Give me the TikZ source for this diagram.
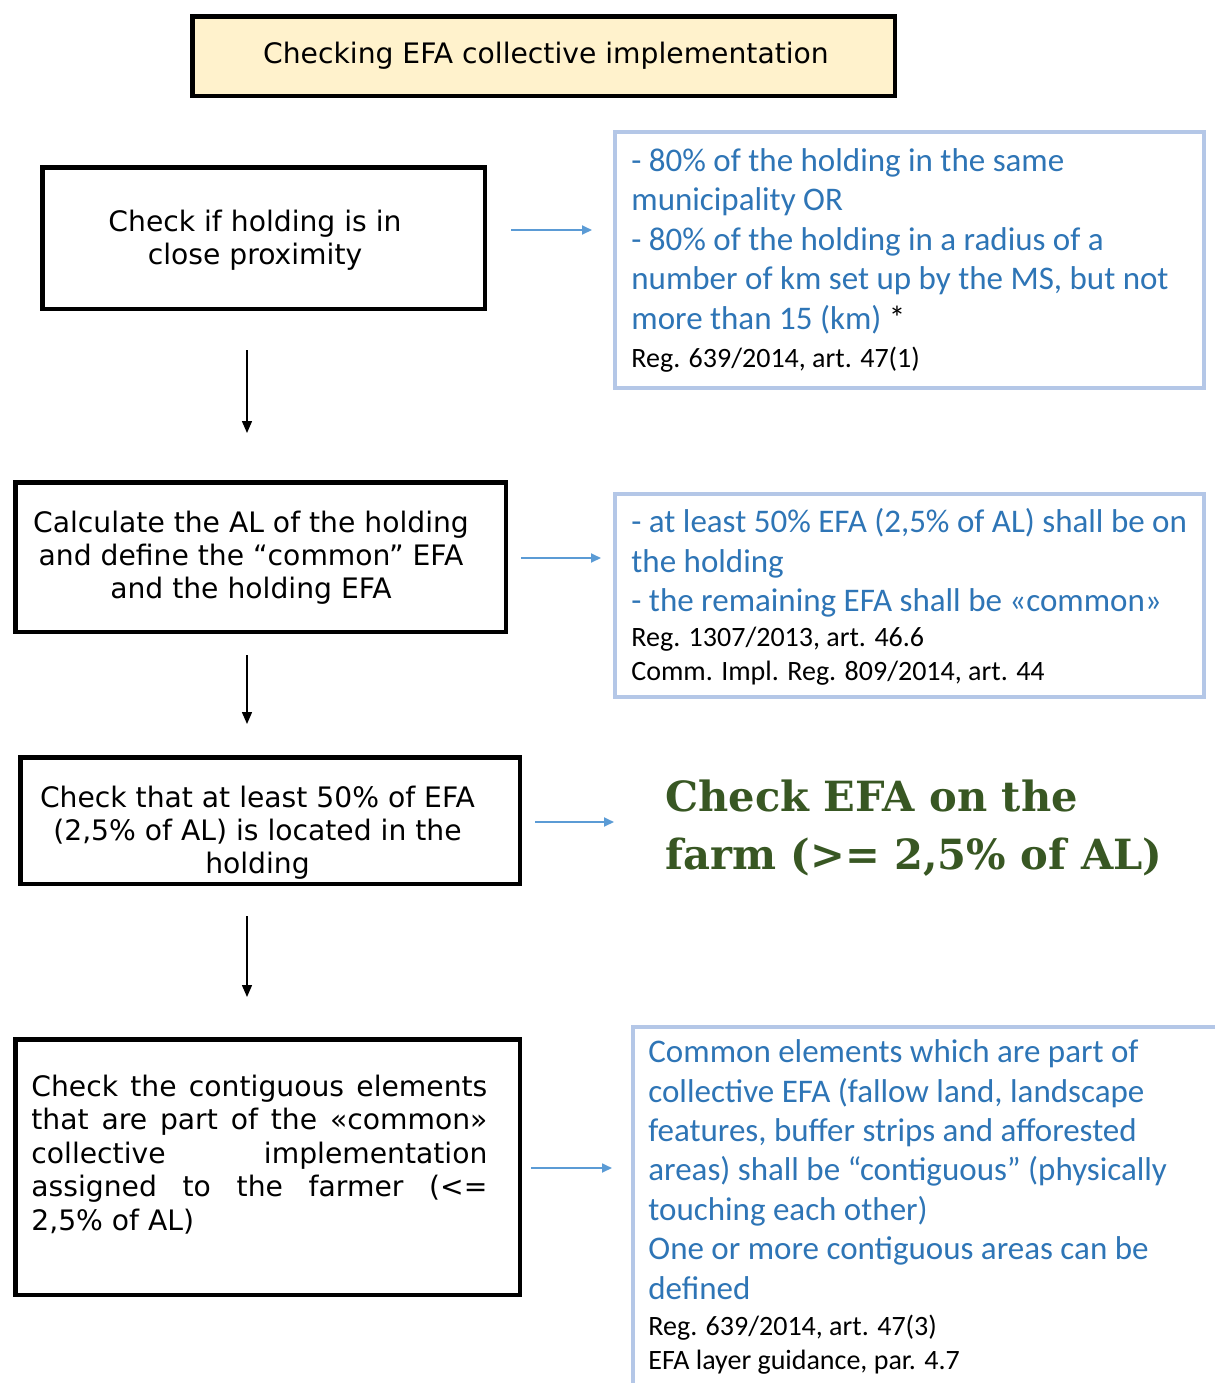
\documentclass[tikz,border=0pt]{standalone}
\usepackage{fontspec}
\setmainfont{DejaVu Sans}
\newfontfamily\calib{Carlito}
\newfontfamily\heavyserif{DejaVu Serif}
\usetikzlibrary{arrows.meta}
\definecolor{titlefill}{HTML}{FFF2CC}
\definecolor{noteblue}{HTML}{2E75B6}
\definecolor{noteframe}{HTML}{B4C7E7}
\definecolor{arrowblue}{HTML}{5B9BD5}
\definecolor{darkgreen}{HTML}{385723}
\tikzset{
  stepframe/.style={draw=black, line width=2.25pt, inner sep=0pt},
  noteframebox/.style={draw=noteframe, line width=2pt, inner sep=0pt},
  steptext/.style={inner sep=0pt, align=center, font=\fontsize{14.1}{16.5}\selectfont},
  bluetext/.style={inner sep=0pt, anchor=base west, align=left, text=noteblue, font=\calib\fontsize{16.5}{19.7}\selectfont},
  reftext/.style={inner sep=0pt, anchor=base west, align=left, text=black, font=\calib\fontsize{14}{17.25}\selectfont},
  downarrow/.style={draw=black, line width=0.75pt, -{Triangle[length=6pt,width=5pt]}},
  sidearrow/.style={draw=arrowblue, line width=0.9pt, -{Triangle[length=5pt,width=4.5pt]}},
}
\begin{document}
\begin{tikzpicture}[x=0.5pt,y=-0.5pt]
\clip (0,0) rectangle (1215,1383);
\useasboundingbox (0,0) rectangle (1215,1383);
\fill[white] (0,0) rectangle (1215,1383);

% title
\node[stepframe, fill=titlefill, minimum width=351.25pt, minimum height=39.75pt] (title) at (543.5,56) {};
\node[steptext] (titletext) at (546,56) {Checking EFA collective implementation};

% step boxes
\node[stepframe, minimum width=221.25pt, minimum height=70.75pt] (s1) at (263.5,238) {};
\node[steptext] (s1text) at (255,240) {Check if holding is in\\close proximity};

\node[stepframe, minimum width=245.25pt, minimum height=74.75pt] (s2) at (260.5,557) {};
\node[steptext] (s2text) at (251,558) {Calculate the AL of the holding\\and define the “common” EFA\\and the holding EFA};

\node[stepframe, minimum width=249.75pt, minimum height=63.25pt] (s3) at (270,820.5) {};
\node[steptext] (s3text) at (257.5,833) {Check that at least 50\% of EFA\\(2,5\% of AL) is located in the\\holding};

\node[stepframe, minimum width=252.25pt, minimum height=127.75pt] (s4) at (267.5,1167) {};
\node[inner sep=0pt, anchor=base west, align=left, font=\fontsize{14.1}{16.75}\selectfont] (s4text) at (31,1230) {%
\makebox[228pt][s]{Check the contiguous elements}\\
\makebox[228pt][s]{that are part of the «common»}\\
\makebox[228pt][s]{collective \hfill implementation}\\
\makebox[228pt][s]{assigned to the farmer (<=}\\
2,5\% of AL)};

% note boxes
\node[noteframebox, minimum width=294.5pt, minimum height=128pt] (n1) at (909.5,260) {};
\node[bluetext] (n1text) at (631,329) {- 80\% of the holding in the same\\municipality OR\\- 80\% of the holding in a radius of a\\number of km set up by the MS, but not\\more than 15 (km) {\color{black}*}};
\node[reftext] (n1ref) at (631,367) {Reg. 639/2014, art. 47(1)};

\node[noteframebox, minimum width=294.5pt, minimum height=101.5pt] (n2) at (909.5,595.5) {};
\node[bluetext] (n2text) at (631,611.5) {- at least 50\% EFA (2,5\% of AL) shall be on\\the holding\\- the remaining EFA shall be «common»};
\node[reftext] (n2ref) at (631,680.5) {Reg. 1307/2013, art. 46.6\\Comm. Impl. Reg. 809/2014, art. 44};

\node[inner sep=0pt, anchor=base west, align=left, text=darkgreen, font=\heavyserif\bfseries\fontsize{20.8}{29}\selectfont] (n3text) at (665,869) {Check EFA on the\\farm (>= 2,5\% of AL)};

\draw[draw=noteframe, line width=2pt] (1240,1027) -- (633,1027) -- (633,1400);
\coordinate (n4) at (633,1027);
\node[bluetext] (n4text) at (648,1299) {Common elements which are part of\\collective EFA (fallow land, landscape\\features, buffer strips and afforested\\areas) shall be “contiguous” (physically\\touching each other)\\One or more contiguous areas can be\\defined};
\node[reftext] (n4ref) at (648,1369.5) {Reg. 639/2014, art. 47(3)\\EFA layer guidance, par. 4.7};

% arrow ends
\coordinate (d1a) at (247,350); \coordinate (d1b) at (247,433);
\coordinate (d2a) at (247,655); \coordinate (d2b) at (247,724);
\coordinate (d3a) at (247,916); \coordinate (d3b) at (247,997);
\coordinate (r1a) at (511,230); \coordinate (r1b) at (592,230);
\coordinate (r2a) at (521,558); \coordinate (r2b) at (601,558);
\coordinate (r3a) at (535,822); \coordinate (r3b) at (614,822);
\coordinate (r4a) at (531,1168); \coordinate (r4b) at (612,1168);

\draw[downarrow] (d1a) -- (d1b);
\draw[downarrow] (d2a) -- (d2b);
\draw[downarrow] (d3a) -- (d3b);
\draw[sidearrow] (r1a) -- (r1b);
\draw[sidearrow] (r2a) -- (r2b);
\draw[sidearrow] (r3a) -- (r3b);
\draw[sidearrow] (r4a) -- (r4b);
\end{tikzpicture}
\end{document}
